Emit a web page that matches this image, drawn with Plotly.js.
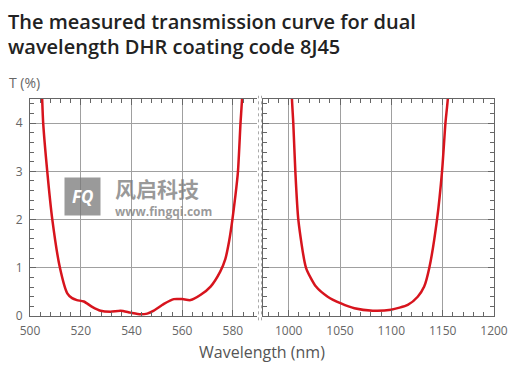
<!DOCTYPE html>
<html>
<head>
<meta charset="utf-8">
<script src="https://cdn.plot.ly/plotly-3.0.1.min.js"></script>
<style>html,body{margin:0;padding:0;background:#fff;}#chart{width:514px;height:369px;}</style>
</head>
<body>
<div id="chart"></div>
<script>
// Visible band (left panel), wavelength in nm and transmission in %
const visWavelength = [504.2, 504.8, 505.2, 506.8, 508.8, 511.8, 514.7, 516.6, 518.5, 521.2, 524.5, 527.8, 531.8, 535.7, 539.6, 543.6, 546.2, 548.8, 552.8, 556.7, 560.0, 563.3, 567.3, 571.2, 575.0, 577.0, 578.5, 579.8, 581.0, 582.0, 583.0, 583.6, 584.3];
const visT          = [5.5,   4.5,   4.0,   3.0,   2.0,   1.0,   0.47,  0.37,  0.33,  0.30,  0.19,  0.11,  0.09,  0.11,  0.07,  0.035, 0.05,  0.11,  0.25,  0.35,  0.35,  0.33,  0.44,  0.61,  0.92,  1.18,  1.55,  2.0,   2.5,   3.0,   4.0,   4.5,   5.5];
// Near-IR band (right panel)
const irWavelength = [1002.0, 1003.2, 1004.5, 1006.5, 1009.4, 1016.9, 1026.6, 1038.0, 1051.0, 1064.0, 1081.9, 1099.7, 1116.0, 1125.7, 1132.0, 1137.0, 1144.5, 1149.4, 1152.7, 1155.0, 1157.0];
const irT          = [5.5,    4.5,    4.0,    3.0,    2.0,    1.0,    0.61,   0.40,   0.26,   0.16,   0.11,   0.13,   0.23,   0.40,   0.61,   1.0,    2.0,    3.0,    4.0,    4.5,    5.5];
const visTicks = [500, 520, 540, 560, 580];
const irTicks = [1000, 1050, 1100, 1150, 1200];
const yTicks = [0, 1, 2, 3, 4];
const titleLines = ['The measured transmission curve for dual', 'wavelength DHR coating code 8J45'];

const lineColor = '#d7141d';
const axisColor = '#666';
const gridColor = '#a0a0a0';
const tickFont = {family: 'Open Sans, sans-serif', size: 12, color: '#666'};

const traces = [
  {x: visWavelength, y: visT, xaxis: 'x', yaxis: 'y', type: 'scatter', mode: 'lines',
   line: {color: lineColor, width: 2.5, shape: 'spline', smoothing: 0.6}, hoverinfo: 'skip'},
  {x: irWavelength, y: irT, xaxis: 'x2', yaxis: 'y2', type: 'scatter', mode: 'lines',
   line: {color: lineColor, width: 2.5, shape: 'spline', smoothing: 0.6}, hoverinfo: 'skip'}
];

const L = 30, PW = 464, B = 316, PH = 217;
const px = v => (v - L) / PW;
const py = v => (B - v) / PH;

function xAxis(domain, range, ticks, minorD) {
  return {domain: domain, range: range, tickvals: ticks, ticktext: ticks.map(String),
    showline: true, linecolor: axisColor, linewidth: 1, mirror: 'ticks',
    ticks: 'inside', ticklen: 6, tickcolor: axisColor, ticklabelstandoff: 4,
    minor: {dtick: minorD, tick0: ticks[0], ticks: 'inside', ticklen: 4, tickcolor: axisColor, showgrid: false},
    showgrid: true, gridcolor: gridColor, gridwidth: 1, zeroline: false,
    tickfont: tickFont, fixedrange: true};
}

const titleFont = {family: 'Open Sans, sans-serif', size: 20, weight: 600, color: '#222'};

const layout = {
  width: 514, height: 369,
  margin: {l: L, r: 20, t: 99, b: 53},
  paper_bgcolor: '#fff', plot_bgcolor: '#fff',
  showlegend: false,
  xaxis: xAxis([0, px(257)], [500, 589.5], visTicks, 4),
  xaxis2: xAxis([px(263), 1], [975, 1200], irTicks, 10),
  yaxis: {anchor: 'x', range: [0, 4.5], tickvals: yTicks, showline: true, linecolor: axisColor, mirror: false,
    ticks: 'inside', ticklen: 6, tickcolor: axisColor, ticklabelstandoff: 4,
    minor: {dtick: 0.2, tick0: 0, ticks: 'inside', ticklen: 4, tickcolor: axisColor, showgrid: false},
    showgrid: true, gridcolor: gridColor, zeroline: false, tickfont: tickFont, fixedrange: true},
  yaxis2: {anchor: 'x2', matches: 'y', range: [0, 4.5], tickvals: yTicks, showline: true, linecolor: axisColor, mirror: 'ticks',
    ticks: 'inside', ticklen: 6, tickcolor: axisColor, showticklabels: false,
    minor: {dtick: 0.2, tick0: 0, ticks: 'inside', ticklen: 4, tickcolor: axisColor, showgrid: false},
    showgrid: true, gridcolor: gridColor, zeroline: false, fixedrange: true},
  shapes: [
    {type: 'line', xref: 'paper', yref: 'paper', x0: px(258.5), x1: px(258.5), y0: -0.02, y1: 1.015,
     line: {color: '#aaa', width: 1, dash: 'dot'}},
    {type: 'line', xref: 'paper', yref: 'paper', x0: px(261.5), x1: px(261.5), y0: -0.02, y1: 1.015,
     line: {color: '#aaa', width: 1, dash: 'dot'}}
  ],
  annotations: [
    {text: titleLines[0], xref: 'paper', yref: 'paper', x: px(6), xanchor: 'left', y: py(21), yanchor: 'middle',
     showarrow: false, font: titleFont},
    {text: titleLines[1], xref: 'paper', yref: 'paper', x: px(6), xanchor: 'left', y: py(46), yanchor: 'middle',
     showarrow: false, font: titleFont},
    {text: 'T (%)', xref: 'paper', yref: 'paper', x: px(7), xanchor: 'left', y: py(82), yanchor: 'middle',
     showarrow: false, font: {family: 'Open Sans, sans-serif', size: 14, color: '#666'}},
    {text: 'Wavelength (nm)', xref: 'paper', yref: 'paper', x: px(262), xanchor: 'center', y: py(352), yanchor: 'middle',
     showarrow: false, font: {family: 'Open Sans, sans-serif', size: 16, color: '#555'}},
    {text: '<b><i>FQ</i></b>', xref: 'paper', yref: 'paper', x: px(82), xanchor: 'center', y: py(196), yanchor: 'middle',
     showarrow: false, bgcolor: 'rgba(120,120,120,0.75)', borderpad: 7,
     font: {family: 'Open Sans, sans-serif', size: 17, color: '#fff'}},
    {text: '<b>风启科技</b>', xref: 'paper', yref: 'paper', x: px(113), xanchor: 'left', y: py(188), yanchor: 'middle',
     showarrow: false, font: {family: 'Noto Sans CJK SC, sans-serif', size: 21, color: 'rgba(120,120,120,0.75)'}},
    {text: '<b>www.fingqi.com</b>', xref: 'paper', yref: 'paper', x: px(113), xanchor: 'left', y: py(211), yanchor: 'middle',
     showarrow: false, font: {family: 'Open Sans, sans-serif', size: 12, color: 'rgba(120,120,120,0.75)'}}
  ]
};

Plotly.newPlot('chart', traces, layout, {displayModeBar: false, staticPlot: true});
</script>
</body>
</html>
